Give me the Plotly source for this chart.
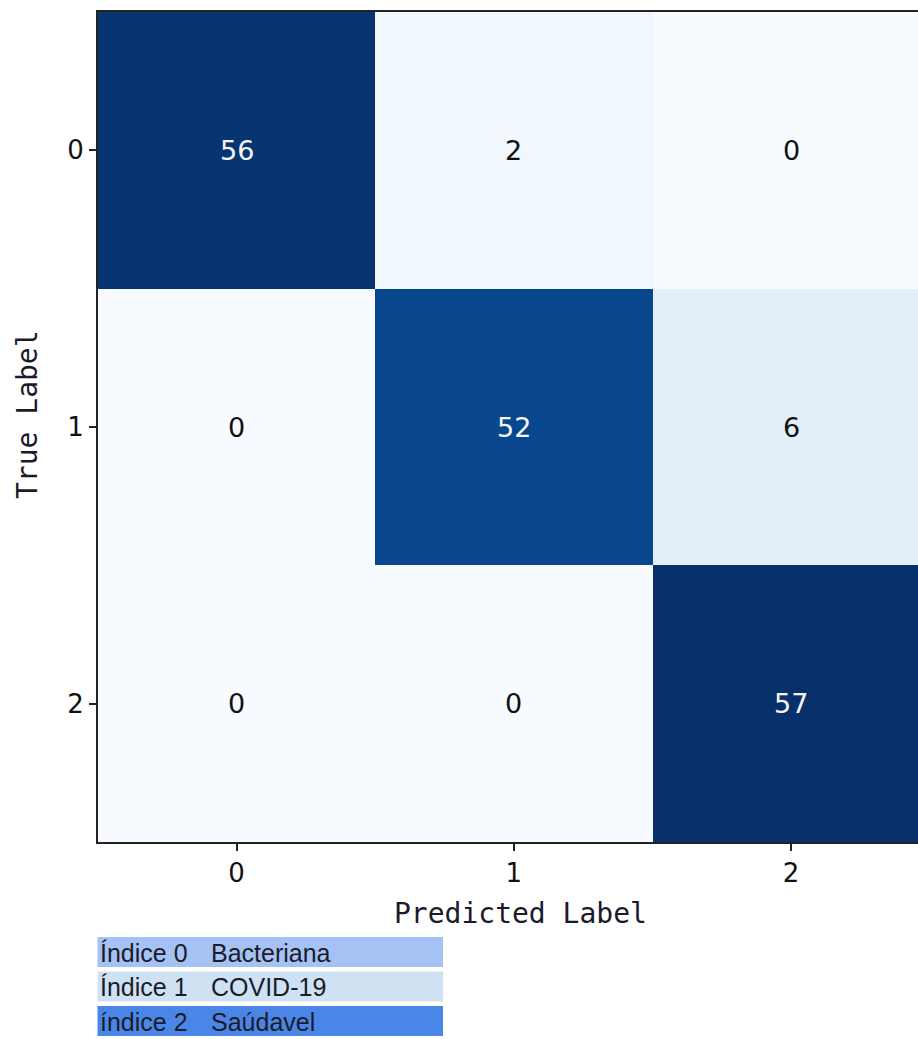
import plotly.graph_objects as go

# Confusion matrix (rows: true label, columns: predicted label)
class_idx = [0, 1, 2]
conf_matrix = [
    [56, 2, 0],
    [0, 52, 6],
    [0, 0, 57],
]
index_labels = ["Índice 0", "Índice 1", "índice 2"]
class_names = ["Bacteriana", "COVID-19", "Saúdavel"]
key_colors = ["#a4c2f4", "#cfe2f3", "#4a86e8"]

# matplotlib "Blues"
blues = ["#f7fbff", "#deebf7", "#c6dbef", "#9ecae1", "#6baed6",
         "#4292c6", "#2171b5", "#08519c", "#08306b"]
colorscale = [[i / (len(blues) - 1), c] for i, c in enumerate(blues)]

W, H = 918, 1039
ML, MT, MR, MB = 98, 12, 0, 197
plot_w = W - ML - MR
plot_h = H - MT - MB


def px_x(p):
    return (p - ML) / plot_w


def px_y(p):
    return (H - MB - p) / plot_h


zmax = max(max(r) for r in conf_matrix)
thresh = zmax / 2

fig = go.Figure()
fig.add_trace(go.Heatmap(
    z=conf_matrix, x=class_idx, y=class_idx,
    colorscale=colorscale, zmin=0, zmax=zmax,
    showscale=False, hoverinfo="skip",
))

annotations = []
for i, row in enumerate(conf_matrix):
    for j, v in enumerate(row):
        annotations.append(dict(
            x=class_idx[j], y=class_idx[i], xref="x", yref="y",
            text=str(v), showarrow=False,
            font=dict(family="DejaVu Sans", size=27,
                      color="#f5f5f5" if v > thresh else "#111111"),
        ))

# axis titles
annotations.append(dict(
    x=px_x(520), y=px_y(913), xref="paper", yref="paper",
    text="Predicted Label", showarrow=False, xanchor="center", yanchor="middle",
    font=dict(family="DejaVu Sans Mono", size=28, color="#1a1a2a"),
))
annotations.append(dict(
    x=px_x(27), y=px_y(415), xref="paper", yref="paper",
    text="True Label", showarrow=False, textangle=-90,
    xanchor="center", yanchor="middle",
    font=dict(family="DejaVu Sans Mono", size=28, color="#1a1a2a"),
))

# class key below the matrix
shapes = []
row_tops = [937, 971.5, 1006]
row_h = 30
for k in range(len(index_labels)):
    top = row_tops[k]
    shapes.append(dict(
        type="rect", xref="paper", yref="paper",
        x0=px_x(97.5), x1=px_x(443), y0=px_y(top), y1=px_y(top + row_h),
        fillcolor=key_colors[k], line=dict(width=0), layer="above",
    ))
    yc = px_y(top + row_h / 2 + 1)
    annotations.append(dict(
        x=px_x(98), y=yc, xref="paper", yref="paper",
        text=index_labels[k], showarrow=False, xanchor="left", yanchor="middle",
        font=dict(family="Liberation Sans", size=25, color="#1c1c28"),
    ))
    annotations.append(dict(
        x=px_x(209), y=yc, xref="paper", yref="paper",
        text=class_names[k], showarrow=False, xanchor="left", yanchor="middle",
        font=dict(family="Liberation Sans", size=25, color="#1c1c28"),
    ))

tick_font = dict(family="DejaVu Sans", size=26, color="#111111")
fig.update_layout(
    width=W, height=H,
    margin=dict(l=ML, r=MR, t=MT, b=MB, pad=0),
    paper_bgcolor="white", plot_bgcolor="white",
    xaxis=dict(
        range=[-0.5, -0.5 + plot_w / 277.2], tickvals=class_idx,
        ticktext=[str(c) for c in class_idx],
        ticks="outside", ticklen=7, tickwidth=1.5, tickcolor="#222222",
        tickfont=tick_font, showgrid=False, zeroline=False,
        showline=True, linecolor="#222222", linewidth=2, mirror=True,
        fixedrange=True,
    ),
    yaxis=dict(
        range=[2.5, -0.5], tickvals=class_idx,
        ticktext=[str(c) for c in class_idx],
        ticks="outside", ticklen=7, tickwidth=1.5, tickcolor="#222222",
        tickfont=tick_font, showgrid=False, zeroline=False,
        showline=True, linecolor="#222222", linewidth=2, mirror=False,
        fixedrange=True,
    ),
    annotations=annotations,
    shapes=shapes,
)

fig.write_html("out.html", config={"displayModeBar": False})
